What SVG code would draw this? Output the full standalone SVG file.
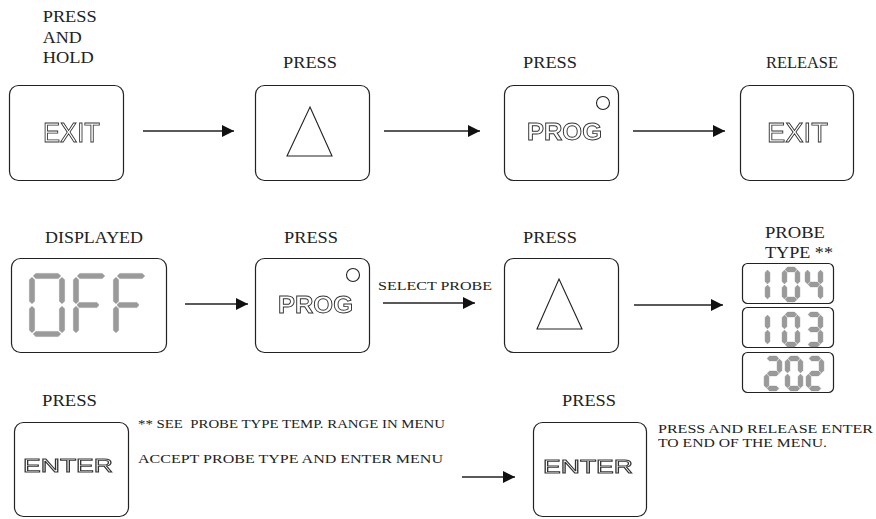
<svg xmlns="http://www.w3.org/2000/svg" xmlns:xlink="http://www.w3.org/1999/xlink" width="876" height="519" viewBox="0 0 876 519">
<style>
.box{fill:#fff;stroke:#222;stroke-width:1.2}
.lbl{font-family:"Liberation Serif","Times New Roman",serif;font-size:16.5px;fill:#222}
.sm{font-family:"Liberation Serif","Times New Roman",serif;font-size:13.5px;fill:#222}
.key{font-family:"Liberation Sans",Arial,sans-serif;fill:#fff;stroke:#333;stroke-width:0.9}
.conn{stroke:#222;stroke-width:1.3;fill:none;marker-end:url(#ah)}
.seg{fill:#9a9a9a;stroke:#8a8a8a;stroke-width:0.4}
.tri{fill:#fff;stroke:#222;stroke-width:1.1}
</style>
<defs>
<filter id="gray" x="-10%" y="-30%" width="120%" height="160%"><feOffset dx="0" dy="0"/></filter>
<marker id="ah" markerUnits="userSpaceOnUse" markerWidth="13" markerHeight="12" refX="12" refY="6" orient="auto">
<path d="M0,0 L12,6 L0,12 z" fill="#111"/>
</marker>
<polygon id="H" class="seg" points="1.2,0 3.8,-2.6 26.2,-2.6 28.8,0 26.2,2.6 3.8,2.6"/>
<polygon id="V" class="seg" points="0,1.2 -2.6,3.8 -2.6,25.2 0,27.8 2.6,25.2 2.6,3.8"/>
<polygon id="h" class="seg" points="0.6,0 3,-2.4 10,-2.4 12.4,0 10,2.4 3,2.4"/>
<polygon id="v" class="seg" points="0,0.6 -2.4,3 -2.4,12 0,14.4 2.4,12 2.4,3"/>
<g id="s0"><use xlink:href="#h" x="2.5" y="2.5"/><use xlink:href="#v" x="15.5" y="2.5"/><use xlink:href="#v" x="15.5" y="17.5"/><use xlink:href="#h" x="2.5" y="32.5"/><use xlink:href="#v" x="2.5" y="17.5"/><use xlink:href="#v" x="2.5" y="2.5"/></g>
<g id="s1"><use xlink:href="#v" x="15.5" y="2.5"/><use xlink:href="#v" x="15.5" y="17.5"/></g>
<g id="s2"><use xlink:href="#h" x="2.5" y="2.5"/><use xlink:href="#v" x="15.5" y="2.5"/><use xlink:href="#h" x="2.5" y="17.5"/><use xlink:href="#v" x="2.5" y="17.5"/><use xlink:href="#h" x="2.5" y="32.5"/></g>
<g id="s3"><use xlink:href="#h" x="2.5" y="2.5"/><use xlink:href="#v" x="15.5" y="2.5"/><use xlink:href="#h" x="2.5" y="17.5"/><use xlink:href="#v" x="15.5" y="17.5"/><use xlink:href="#h" x="2.5" y="32.5"/></g>
<g id="s4"><use xlink:href="#v" x="2.5" y="2.5"/><use xlink:href="#h" x="2.5" y="17.5"/><use xlink:href="#v" x="15.5" y="2.5"/><use xlink:href="#v" x="15.5" y="17.5"/></g>
</defs>
<rect width="876" height="519" fill="#fff"/>

<!-- Row 1 -->
<g id="label-press-hold">
<text class="lbl" x="42.7" y="22" textLength="54" lengthAdjust="spacingAndGlyphs">PRESS</text>
<text class="lbl" x="42.7" y="43" textLength="39" lengthAdjust="spacingAndGlyphs">AND</text>
<text class="lbl" x="42.7" y="63" textLength="51" lengthAdjust="spacingAndGlyphs">HOLD</text>
</g>
<g id="node-exit1">
<rect class="box" x="9.5" y="85.5" width="114" height="95" rx="9"/>
<text class="key" filter="url(#gray)" x="43" y="141.5" font-size="27" textLength="57" lengthAdjust="spacingAndGlyphs">EXIT</text>
</g>
<g id="node-up1">
<text class="lbl" x="283" y="68" textLength="54" lengthAdjust="spacingAndGlyphs">PRESS</text>
<rect class="box" x="255.5" y="85.5" width="114" height="95" rx="9"/>
<polygon class="tri" points="310,107 332,156 287,156"/>
</g>
<g id="node-prog1">
<text class="lbl" x="523" y="68" textLength="54" lengthAdjust="spacingAndGlyphs">PRESS</text>
<rect class="box" x="504.5" y="85.5" width="114" height="95" rx="9"/>
<circle cx="603" cy="103" r="6.5" fill="#fff" stroke="#222" stroke-width="1.1"/>
<text class="key" filter="url(#gray)" x="527" y="140" font-size="24" font-weight="bold" textLength="75" lengthAdjust="spacingAndGlyphs">PROG</text>
</g>
<g id="node-exit2">
<text class="lbl" x="766" y="68" textLength="72" lengthAdjust="spacingAndGlyphs">RELEASE</text>
<rect class="box" x="740.5" y="85.5" width="113" height="95" rx="9"/>
<text class="key" filter="url(#gray)" x="767" y="142" font-size="27" textLength="61" lengthAdjust="spacingAndGlyphs">EXIT</text>
</g>

<!-- Row 2 -->
<g id="node-off">
<text class="lbl" x="45" y="243" textLength="98" lengthAdjust="spacingAndGlyphs">DISPLAYED</text>
<rect class="box" x="11.5" y="258.5" width="155" height="94" rx="9"/>
<g transform="translate(29,273)">
<use xlink:href="#H" x="3" y="3"/><use xlink:href="#V" x="33" y="3"/><use xlink:href="#V" x="33" y="32"/><use xlink:href="#H" x="3" y="61"/><use xlink:href="#V" x="3" y="32"/><use xlink:href="#V" x="3" y="3"/>
</g>
<g transform="translate(73,273)">
<use xlink:href="#H" x="3" y="3"/><use xlink:href="#V" x="3" y="3"/><use xlink:href="#V" x="3" y="32"/><use xlink:href="#H" x="3" y="32" transform="translate(3,32) scale(0.8,1) translate(-3,-32)"/>
</g>
<g transform="translate(113,273)">
<use xlink:href="#H" x="3" y="3"/><use xlink:href="#V" x="3" y="3"/><use xlink:href="#V" x="3" y="32"/><use xlink:href="#H" x="3" y="32" transform="translate(3,32) scale(0.8,1) translate(-3,-32)"/>
</g>
</g>
<g id="node-prog2">
<text class="lbl" x="284" y="243" textLength="54" lengthAdjust="spacingAndGlyphs">PRESS</text>
<rect class="box" x="255.5" y="258.5" width="114" height="94" rx="9"/>
<circle cx="353" cy="275" r="6.5" fill="#fff" stroke="#222" stroke-width="1.1"/>
<text class="key" filter="url(#gray)" x="278" y="313" font-size="24" font-weight="bold" textLength="75" lengthAdjust="spacingAndGlyphs">PROG</text>
</g>
<g id="node-up2">
<text class="lbl" x="523" y="243" textLength="54" lengthAdjust="spacingAndGlyphs">PRESS</text>
<rect class="box" x="504.5" y="258.5" width="114" height="94" rx="9"/>
<polygon class="tri" points="559,279 582,329 537,329"/>
</g>
<g id="node-probe-type">
<text class="lbl" x="765" y="238" textLength="60" lengthAdjust="spacingAndGlyphs">PROBE</text>
<text class="lbl" x="765" y="258" textLength="68" lengthAdjust="spacingAndGlyphs">TYPE **</text>
<rect class="box" x="742.5" y="263.5" width="91" height="40" rx="5"/>
<rect class="box" x="742.5" y="307.5" width="91" height="40" rx="5"/>
<rect class="box" x="742.5" y="352.5" width="91" height="40" rx="5"/>
<use xlink:href="#s1" x="752" y="267"/><use xlink:href="#s0" x="782" y="267"/><use xlink:href="#s4" x="805" y="267"/>
<use xlink:href="#s1" x="752" y="312"/><use xlink:href="#s0" x="782" y="312"/><use xlink:href="#s3" x="805" y="312"/>
<use xlink:href="#s2" x="764" y="356"/><use xlink:href="#s0" x="785" y="356"/><use xlink:href="#s2" x="806" y="356"/>
</g>

<!-- Row 3 -->
<g id="node-enter1">
<text class="lbl" x="42" y="406" textLength="55" lengthAdjust="spacingAndGlyphs">PRESS</text>
<rect class="box" x="14.5" y="422.5" width="114" height="94" rx="9"/>
<text class="key" filter="url(#gray)" x="23" y="472" font-size="18" textLength="90" lengthAdjust="spacingAndGlyphs">ENTER</text>
</g>
<g id="notes">
<text class="sm" x="138" y="428" textLength="307" lengthAdjust="spacingAndGlyphs" xml:space="preserve">** SEE  PROBE TYPE TEMP. RANGE IN MENU</text>
<text class="sm" x="138" y="463" textLength="305" lengthAdjust="spacingAndGlyphs">ACCEPT PROBE TYPE AND ENTER MENU</text>
</g>
<g id="node-enter2">
<text class="lbl" x="562" y="406" textLength="54" lengthAdjust="spacingAndGlyphs">PRESS</text>
<rect class="box" x="533.5" y="422.5" width="113" height="94" rx="9"/>
<text class="key" filter="url(#gray)" x="543" y="473" font-size="18" textLength="90" lengthAdjust="spacingAndGlyphs">ENTER</text>
<text class="sm" x="658" y="433" textLength="215" lengthAdjust="spacingAndGlyphs">PRESS AND RELEASE ENTER</text>
<text class="sm" x="658" y="447" textLength="169" lengthAdjust="spacingAndGlyphs">TO END OF THE MENU.</text>
</g>

<g id="connectors">
<line class="conn" x1="143" y1="131" x2="234" y2="131"/>
<line class="conn" x1="384" y1="131" x2="480" y2="131"/>
<line class="conn" x1="633" y1="131" x2="725" y2="131"/>
<line class="conn" x1="185" y1="304" x2="248" y2="304"/>
<line class="conn" x1="383" y1="303" x2="475" y2="303"/>
<line class="conn" x1="634" y1="305" x2="723" y2="305"/>
<line class="conn" x1="462" y1="477" x2="515" y2="477"/>
<text class="sm" x="378" y="290" font-size="14" textLength="114" lengthAdjust="spacingAndGlyphs">SELECT PROBE</text>
</g>
</svg>
